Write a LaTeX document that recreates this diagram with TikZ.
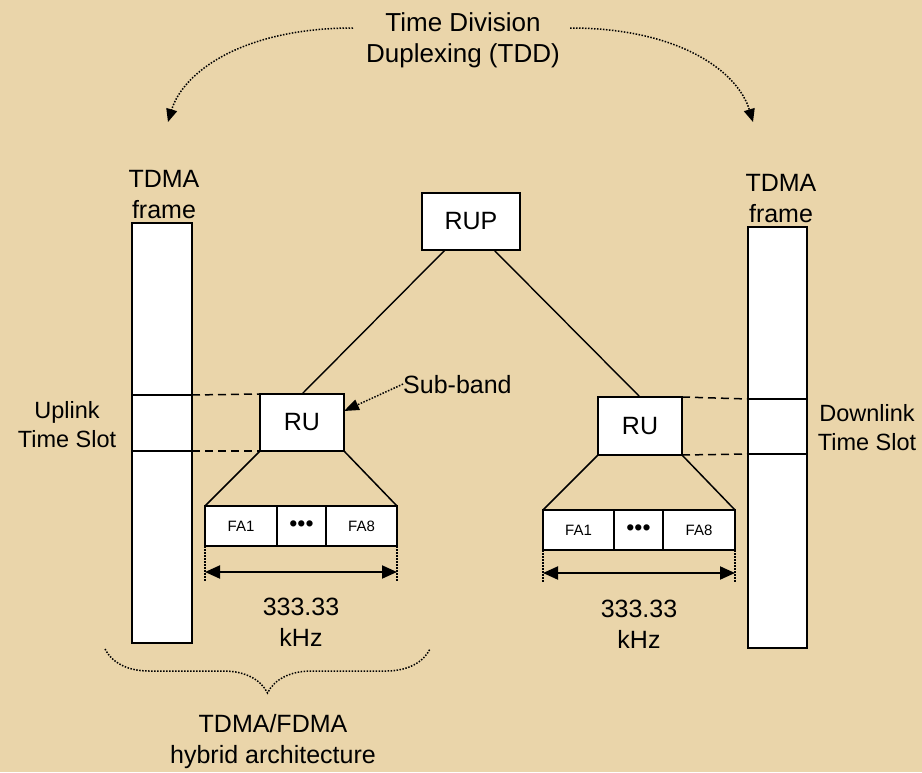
\documentclass[tikz,border=0pt]{standalone}
\usepackage{fontspec}
\setmainfont{Liberation Sans}
\usetikzlibrary{positioning,calc,arrows.meta,decorations.pathreplacing}

\definecolor{parchment}{RGB}{234,213,170}

\tikzset{
  lbl/.style={font=\fontsize{25}{31}\selectfont, align=center, inner sep=0pt},
  sidelbl/.style={lbl, font=\fontsize{23.5}{29}\selectfont},
  unitbox/.style={draw, fill=white, line width=1.5pt, font=\fontsize{25}{31}\selectfont, inner sep=0pt, outer sep=0pt},
  framebar/.style={draw, fill=white, line width=1.5pt, inner sep=0pt, outer sep=0pt, minimum width=60pt},
  facell/.style={draw, fill=white, line width=1.5pt, inner sep=0pt, outer sep=0pt, minimum height=40pt, font=\fontsize{15}{18}\selectfont},
  slotlink/.style={dash pattern=on 8pt off 5pt, line width=1.5pt},
  dimline/.style={{Triangle[length=15pt,width=13pt]}-{Triangle[length=15pt,width=13pt]}, line width=2pt},
  guide/.style={dash pattern=on 1.5pt off 1.5pt, line width=1.5pt},
}

\begin{document}
\begin{tikzpicture}[x=1pt,y=-1pt]
  \fill[parchment] (0,0) rectangle (922,772);
  \useasboundingbox (0,0) rectangle (922,772);

  % TDMA frames and their time slots
  \node[framebar, minimum height=420pt] (ulframe) at (162,433) {};
  \node[framebar, minimum width=59pt, minimum height=421pt] (dlframe) at (777.5,437.5) {};
  \draw[line width=1.5pt] (ulframe.west |- 0,395) -- (ulframe.east |- 0,395) coordinate (ultop);
  \draw[line width=1.5pt] (ulframe.west |- 0,451) -- (ulframe.east |- 0,451) coordinate (ulbot);
  \draw[line width=1.5pt] (dlframe.west |- 0,399) coordinate (dltop) -- (dlframe.east |- 0,399);
  \draw[line width=1.5pt] (dlframe.west |- 0,454) coordinate (dlbot) -- (dlframe.east |- 0,454);

  % units
  \node[unitbox, minimum width=98pt, minimum height=57pt] (rup) at (471,221.5) {RUP};
  \node[unitbox, minimum width=84pt, minimum height=57pt] (rul) at (302,422.5) {RU};
  \node[unitbox, minimum width=84pt, minimum height=58pt] (rur) at (640,426) {RU};

  % frequency allocations
  \node[facell, minimum width=72pt] (fa1l) at (241,526) {FA1};
  \node[facell, minimum width=49pt, right=0pt of fa1l, font=\fontsize{23}{23}\selectfont] (dotsl) {•••};
  \node[facell, minimum width=71pt, right=0pt of dotsl] (fa8l) {FA8};
  \node[facell, minimum width=71pt] (fa1r) at (578.5,530) {FA1};
  \node[facell, minimum width=49pt, right=0pt of fa1r, font=\fontsize{23}{23}\selectfont] (dotsr) {•••};
  \node[facell, minimum width=72pt, right=0pt of dotsr] (fa8r) {FA8};

  % tree
  \draw[line width=1.4pt] ([xshift=-26pt]rup.south) -- (rul.north);
  \draw[line width=1.4pt] ([xshift=23pt]rup.south) -- (rur.north);
  \draw[line width=1.5pt] (rul.south west) -- (fa1l.north west);
  \draw[line width=1.5pt] (rul.south east) -- (fa8l.north east);
  \draw[line width=1.5pt] (rur.south west) -- (fa1r.north west);
  \draw[line width=1.5pt] (rur.south east) -- (fa8r.north east);

  % slot links
  \draw[slotlink] (ultop) -- (rul.north west);
  \draw[slotlink] (ulbot) -- (rul.south west);
  \draw[slotlink] (rur.north east) -- (dltop);
  \draw[slotlink] (rur.south east) -- (dlbot);

  % bandwidth
  \draw[guide, line width=1.2pt] (fa1l.south west) -- ++(0,35) coordinate (bwla);
  \draw[guide, line width=1.2pt] (fa8l.south east) -- ++(0,35) coordinate (bwlb);
  \draw[guide, line width=1.2pt] (fa1r.south west) -- ++(0,33) coordinate (bwra);
  \draw[guide, line width=1.2pt] (fa8r.south east) -- ++(0,33) coordinate (bwrb);
  \draw[dimline] ([yshift=-26pt]fa1l.south west) -- ([yshift=-26pt]fa8l.south east);
  \draw[dimline] ([yshift=-23pt]fa1r.south west) -- ([yshift=-23pt]fa8r.south east);

  % labels
  \node[lbl] (bwl) at (301,622) {333.33\\kHz};
  \node[lbl] (bwr) at (639,624) {333.33\\kHz};
  \node[lbl, font=\fontsize{26}{31}\selectfont] (tdd) at (463,40) {Time Division\\Duplexing (TDD)};
  \node[lbl] (tfl) at (164,195) {TDMA\\frame};
  \node[lbl] (tfr) at (781,199) {TDMA\\frame};
  \node[sidelbl] (upl) at (67,425) {Uplink\\Time Slot};
  \node[sidelbl] (dnl) at (867,428) {Downlink\\Time Slot};
  \node[lbl] (hyb) at (273,742) {TDMA/FDMA\\hybrid architecture};
  \node[lbl, anchor=base west] (sub) at (403,393) {Sub-band};

  % annotations
  \coordinate (tddl) at (168,122);
  \coordinate (tddr) at (753,122);
  \draw[guide, -{Triangle[length=13pt,width=11pt]}] ([shift={(-13,-12)}]tdd.west) .. controls +(-110,0) and +(15,-50) .. (tddl);
  \draw[guide, -{Triangle[length=13pt,width=11pt]}] ([shift={(10,-12)}]tdd.east) .. controls +(110,0) and +(-15,-50) .. (tddr);
  \draw[guide, -{Triangle[length=15pt,width=11pt]}] (sub.west) -- ([yshift=11.5pt]rul.east);
  \draw[guide, decorate, decoration={brace, amplitude=44pt, mirror}] (105,649) coordinate (brl) -- (430,649) coordinate (brr);
\end{tikzpicture}
\end{document}
